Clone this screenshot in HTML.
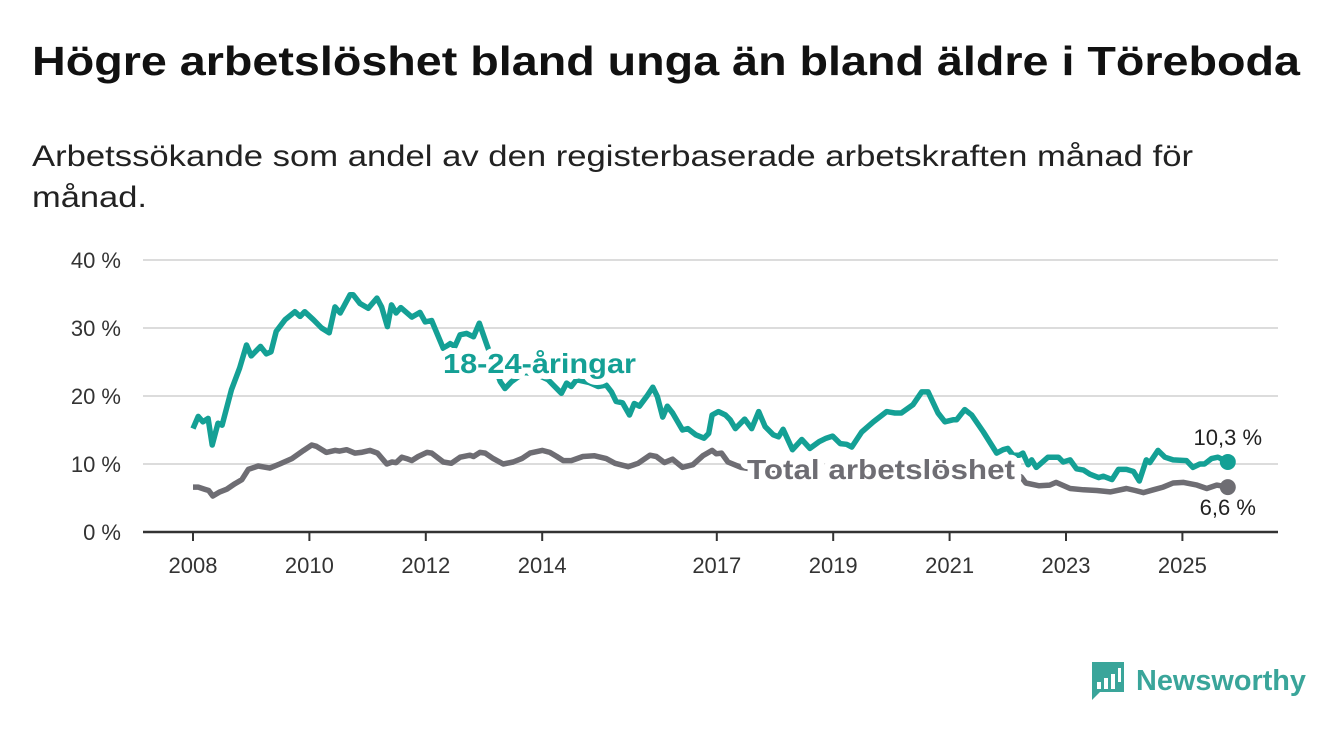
<!DOCTYPE html>
<html><head><meta charset="utf-8">
<style>
body{margin:0;background:#fff;width:1340px;height:734px;overflow:hidden;font-family:"Liberation Sans",sans-serif;}
svg{display:block}
</style></head>
<body>
<svg width="1340" height="734" id="chart">
<text x="32" y="75" font-size="41" font-weight="bold" fill="#111" textLength="1268" lengthAdjust="spacingAndGlyphs">Högre arbetslöshet bland unga än bland äldre i Töreboda</text>
<text font-size="30" fill="#222"><tspan x="32" y="166" textLength="1161" lengthAdjust="spacingAndGlyphs">Arbetssökande som andel av den registerbaserade arbetskraften månad för</tspan><tspan x="32" y="207" textLength="115" lengthAdjust="spacingAndGlyphs">månad.</tspan></text>
<g id="grid"></g>
<g id="xaxis"></g>
<g id="series"></g>
<g>
<path d="M1092 662 h32 v30 h-24 l-8 8 z" fill="#3aa59a"/>
<rect x="1097" y="682" width="4" height="7" fill="#fff"/>
<rect x="1104" y="678" width="4" height="11" fill="#fff"/>
<rect x="1111" y="674" width="4" height="15" fill="#fff"/>
<rect x="1118" y="668" width="3" height="14" fill="#fff"/>
<text x="1136" y="690" font-size="29" font-weight="bold" fill="#3aa59a" textLength="170" lengthAdjust="spacingAndGlyphs">Newsworthy</text>
</g>
</svg>
<script>
const yTicks=[0,10,20,30,40];
const yTickLabels=["0 %","10 %","20 %","30 %","40 %"];
const xTicks=[2008,2010,2012,2014,2017,2019,2021,2023,2025];
const youngDates=[2008.0,2008.09,2008.17,2008.26,2008.33,2008.43,2008.5,2008.66,2008.8,2008.92,2009.0,2009.16,2009.26,2009.34,2009.43,2009.58,2009.75,2009.84,2009.92,2010.07,2010.21,2010.34,2010.44,2010.53,2010.7,2010.75,2010.87,2011.01,2011.16,2011.24,2011.34,2011.41,2011.49,2011.57,2011.76,2011.9,2011.99,2012.1,2012.3,2012.42,2012.5,2012.59,2012.7,2012.82,2012.92,2013.05,2013.28,2013.36,2013.47,2013.7,2013.95,2014.1,2014.33,2014.42,2014.5,2014.59,2014.8,2014.96,2015.1,2015.19,2015.27,2015.38,2015.5,2015.58,2015.67,2015.81,2015.9,2015.98,2016.07,2016.15,2016.24,2016.41,2016.5,2016.64,2016.78,2016.86,2016.92,2017.03,2017.15,2017.23,2017.32,2017.48,2017.6,2017.72,2017.83,2017.97,2018.06,2018.14,2018.3,2018.46,2018.6,2018.76,2018.88,2018.99,2019.12,2019.23,2019.32,2019.49,2019.69,2019.92,2020.06,2020.17,2020.37,2020.52,2020.63,2020.8,2020.92,2021.06,2021.12,2021.26,2021.38,2021.58,2021.81,2021.92,2022.0,2022.09,2022.2,2022.26,2022.35,2022.41,2022.49,2022.69,2022.87,2022.95,2023.07,2023.18,2023.3,2023.41,2023.56,2023.64,2023.79,2023.9,2024.04,2024.16,2024.26,2024.38,2024.44,2024.58,2024.7,2024.84,2025.07,2025.18,2025.3,2025.38,2025.5,2025.61,2025.78];
const youngValues=[15.2,17.0,16.2,16.7,12.8,16.0,15.7,20.9,24.1,27.5,25.9,27.3,26.2,26.5,29.5,31.2,32.4,31.7,32.4,31.2,30.0,29.3,33.1,32.2,34.9,34.9,33.6,32.9,34.4,33.1,30.2,33.4,32.2,33.0,31.6,32.3,30.9,31.1,27.0,27.7,27.3,29.0,29.2,28.7,30.7,27.5,22.1,21.1,22.1,23.5,23.0,22.4,20.4,21.9,21.4,22.4,22.0,21.4,21.6,20.6,19.2,19.0,17.2,18.9,18.5,20.1,21.3,19.9,16.9,18.5,17.5,15.0,15.2,14.3,13.8,14.5,17.2,17.7,17.2,16.5,15.2,16.6,15.2,17.7,15.5,14.3,14.0,15.1,12.1,13.6,12.3,13.3,13.8,14.1,13.0,12.9,12.5,14.7,16.2,17.7,17.5,17.5,18.7,20.6,20.6,17.5,16.2,16.5,16.5,18.0,17.2,14.7,11.6,12.1,12.3,11.3,11.3,11.6,9.9,10.6,9.5,11.0,11.0,10.3,10.6,9.3,9.1,8.5,8.0,8.2,7.7,9.2,9.2,8.9,7.5,10.6,10.2,12.0,11.0,10.6,10.5,9.5,10.0,10.0,10.8,11.0,10.3];
const totalDates=[2008.0,2008.09,2008.2,2008.27,2008.34,2008.46,2008.58,2008.72,2008.84,2008.95,2009.12,2009.32,2009.49,2009.7,2009.9,2010.04,2010.12,2010.29,2010.44,2010.52,2010.64,2010.78,2010.89,2011.04,2011.17,2011.33,2011.42,2011.49,2011.59,2011.67,2011.76,2011.87,2012.02,2012.1,2012.3,2012.44,2012.59,2012.76,2012.82,2012.93,2013.02,2013.16,2013.33,2013.5,2013.65,2013.79,2014.0,2014.13,2014.25,2014.36,2014.5,2014.7,2014.9,2015.1,2015.25,2015.48,2015.65,2015.85,2015.96,2016.1,2016.24,2016.41,2016.59,2016.76,2016.92,2016.99,2017.08,2017.19,2017.42,2017.8,2018.5,2019.5,2020.5,2021.5,2022.0,2022.23,2022.31,2022.54,2022.72,2022.83,2023.07,2023.3,2023.53,2023.76,2024.04,2024.19,2024.33,2024.5,2024.67,2024.84,2025.02,2025.25,2025.42,2025.59,2025.78];
const totalValues=[6.6,6.6,6.3,6.1,5.3,5.9,6.3,7.1,7.7,9.2,9.7,9.4,10.0,10.8,12.0,12.8,12.6,11.7,12.0,11.9,12.1,11.6,11.7,12.0,11.6,10.0,10.3,10.2,11.0,10.8,10.5,11.1,11.7,11.6,10.3,10.1,11.0,11.3,11.1,11.7,11.6,10.8,10.0,10.3,10.8,11.6,12.0,11.7,11.1,10.5,10.5,11.1,11.2,10.8,10.1,9.6,10.1,11.3,11.1,10.2,10.7,9.5,9.9,11.2,12.0,11.5,11.6,10.3,9.5,9.0,8.8,8.5,8.7,8.6,8.5,8.1,7.2,6.8,6.9,7.3,6.4,6.2,6.1,5.9,6.4,6.1,5.8,6.2,6.6,7.2,7.3,6.9,6.4,6.9,6.6];
const youngLabel="18-24-åringar", totalLabel="Total arbetslöshet";
const youngEnd="10,3 %", totalEnd="6,6 %";

const NS="http://www.w3.org/2000/svg";
const x=t=>193+(t-2008)*58.2;
const y=v=>532-v*6.8;
function mk(tag,attrs,parent){const e=document.createElementNS(NS,tag);for(const k in attrs)e.setAttribute(k,attrs[k]);parent.appendChild(e);return e;}
const grid=document.getElementById('grid'),xa=document.getElementById('xaxis'),ser=document.getElementById('series');
yTicks.forEach((v,i)=>{
 if(v>0){const l=mk('line',{x1:143,x2:1278,y1:y(v),y2:y(v),stroke:'#dcdcdc','stroke-width':2},grid);
 
 }
 const t=mk('text',{x:121,y:y(v)+8,'text-anchor':'end','font-size':22,fill:'#333'},grid);
 
 
 t.textContent=yTickLabels[i];
});
const ax=mk('line',{x1:143,x2:1278,y1:532,y2:532,stroke:'#333','stroke-width':2.5},xa);


xTicks.forEach(yr=>{
 const tk=mk('line',{x1:x(yr),x2:x(yr),y1:532,y2:541,stroke:'#333','stroke-width':2},xa);
 
 
 const t=mk('text',{x:x(yr),y:573,'text-anchor':'middle','font-size':22,fill:'#333'},xa);
 
 
 t.textContent=yr;
});
function path(d,v){return d.map((t,i)=>(i?'L':'M')+x(t).toFixed(1)+' '+y(v[i]).toFixed(1)).join(' ');}
const pt=mk('path',{d:path(totalDates,totalValues),fill:'none',stroke:'#6e6d73','stroke-width':5.5,'stroke-linejoin':'round'},ser);


const py=mk('path',{d:path(youngDates,youngValues),fill:'none',stroke:'#14a095','stroke-width':5.5,'stroke-linejoin':'round'},ser);


const lt=mk('text',{x:443,y:373,'font-size':28,'font-weight':'bold',fill:'#14a095',stroke:'#fff','stroke-width':12,'paint-order':'stroke','stroke-linejoin':'round',textLength:193,lengthAdjust:'spacingAndGlyphs'},ser);


lt.textContent=youngLabel;
const tt=mk('text',{x:747,y:479,'font-size':28,'font-weight':'bold',fill:'#6e6d73',stroke:'#fff','stroke-width':12,'paint-order':'stroke','stroke-linejoin':'round',textLength:268,lengthAdjust:'spacingAndGlyphs'},ser);


tt.textContent=totalLabel;
const ly=youngDates.length-1,lT=totalDates.length-1;
const d1=mk('circle',{cx:x(youngDates[ly]),cy:y(youngValues[ly]),r:8,fill:'#14a095'},ser);


const d2=mk('circle',{cx:x(totalDates[lT]),cy:y(totalValues[lT]),r:8,fill:'#6e6d73'},ser);


const e1=mk('text',{x:x(youngDates[ly]),y:y(youngValues[ly])-17,'text-anchor':'middle','font-size':22,fill:'#222'},ser);


e1.textContent=youngEnd;
const e2=mk('text',{x:x(totalDates[lT]),y:y(totalValues[lT])+28,'text-anchor':'middle','font-size':22,fill:'#222'},ser);


e2.textContent=totalEnd;
</script>
</body></html>
